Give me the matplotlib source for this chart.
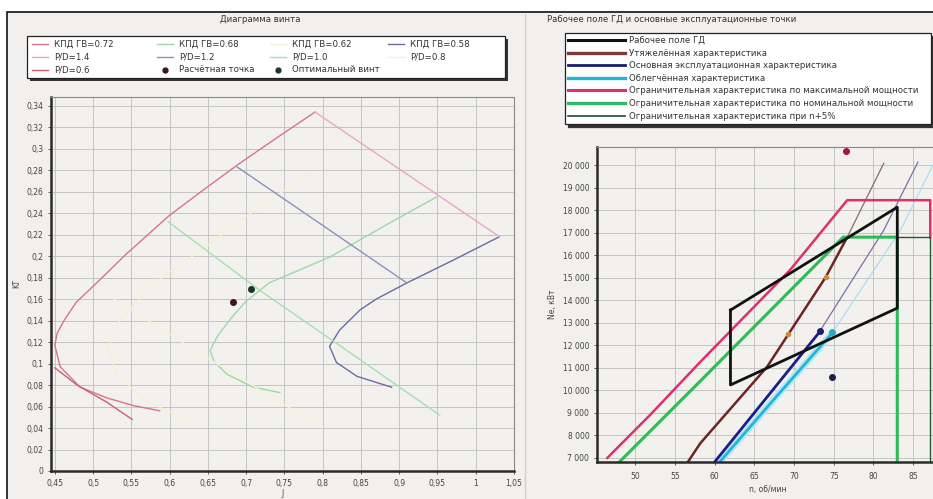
"""Propeller diagram and engine operating field

Two panels side by side: KT-J propeller chart on the left, engine power
field with the main operating characteristics on the right.
"""

import matplotlib
matplotlib.use("Agg")
import matplotlib.pyplot as plt
from matplotlib.patches import Rectangle
from matplotlib.lines import Line2D
from matplotlib.ticker import FuncFormatter, MultipleLocator

# -----------------------------------------------------------------------------
# Left chart data – KT vs J ----------------------------------------------------
# -----------------------------------------------------------------------------
kpd072_j = [0.790, 0.740, 0.689, 0.645, 0.600, 0.542, 0.509, 0.478, 0.462, 0.453, 0.450,
            0.457, 0.483, 0.518, 0.552, 0.587]
kpd072_kt = [0.334, 0.310, 0.285, 0.262, 0.238, 0.201, 0.178, 0.157, 0.140, 0.128, 0.117,
             0.097, 0.078, 0.068, 0.061, 0.056]

kpd068_j = [0.744, 0.709, 0.675, 0.658, 0.653, 0.662, 0.680, 0.700, 0.730, 0.809, 0.888, 0.949]
kpd068_kt = [0.073, 0.078, 0.090, 0.102, 0.112, 0.125, 0.142, 0.158, 0.175, 0.199, 0.231, 0.255]

kpd062_j = [0.630, 0.570, 0.530, 0.520, 0.535, 0.580, 0.640, 0.700, 0.785]
kpd062_kt = [0.045, 0.065, 0.090, 0.115, 0.140, 0.175, 0.205, 0.237, 0.278]

kpd058_j = [1.031, 0.970, 0.910, 0.870, 0.849, 0.822, 0.809, 0.818, 0.845, 0.890]
kpd058_kt = [0.218, 0.196, 0.175, 0.160, 0.150, 0.131, 0.116, 0.101, 0.088, 0.078]

pd14_j = [0.790, 1.031]
pd14_kt = [0.334, 0.218]
pd12_j = [0.688, 0.910]
pd12_kt = [0.283, 0.175]
pd10_j = [0.598, 0.718, 0.840, 0.953]
pd10_kt = [0.232, 0.168, 0.108, 0.052]
pd08_j = [0.505, 0.650, 0.800]
pd08_kt = [0.170, 0.105, 0.040]
pd06_j = [0.450, 0.479, 0.518, 0.551]
pd06_kt = [0.096, 0.080, 0.064, 0.048]

design_pt = (0.683, 0.157)
optimum_pt = (0.706, 0.169)

left_labels = ["КПД ГВ=0.72", "КПД ГВ=0.68", "КПД ГВ=0.62", "КПД ГВ=0.58",
               "P/D=1.4", "P/D=1.2", "P/D=1.0", "P/D=0.8",
               "P/D=0.6", "Расчётная точка", "Оптимальный винт"]

# -----------------------------------------------------------------------------
# Right chart data – Ne vs n ---------------------------------------------------
# -----------------------------------------------------------------------------
field_n = [62, 62, 83, 83, 62]
field_ne = [13560, 10240, 13650, 18130, 13560]

heavy_n = [56.6, 58.2, 66.6, 74.0, 76.7]
heavy_ne = [6800, 7650, 11040, 15030, 16800]
heavy_ext_n = [76.7, 81.3]
heavy_ext_ne = [16800, 20080]

main_n = [59.5, 66.6, 73.1]
main_ne = [6600, 9700, 12540]
main_ext_n = [73.1, 81.3, 85.6]
main_ext_ne = [12540, 17110, 20130]

light_n = [60.1, 67.4, 74.8]
light_ne = [6600, 9570, 12540]
light_ext_n = [74.8, 83.4, 87.6]
light_ext_ne = [12540, 17110, 20080]

maxpow_n = [46.5, 52.0, 58.2, 69.5, 76.7, 87.15, 87.15]
maxpow_ne = [7000, 8950, 11260, 15340, 18440, 18440, 16800]

nompow_n = [47.9, 58.2, 76.2, 83, 83]
nompow_ne = [6780, 10410, 16800, 16800, 6700]

n5_n = [83, 87.15, 87.15]
n5_ne = [16800, 16800, 6700]

heavy_pts_n = [69.3, 74.0]
heavy_pts_ne = [12500, 15030]
main_pt = (73.3, 12650)
light_pt = (74.8, 12600)
low_pt = (74.8, 10590)
top_pt = (76.6, 20610)

right_labels = ["Рабочее поле ГД", "Утяжелённая характеристика",
                "Основная эксплуатационная характеристика", "Облегчённая характеристика",
                "Ограничительная характеристика по максимальной мощности",
                "Ограничительная характеристика по номинальной мощности",
                "Ограничительная характеристика при n+5%"]

# -----------------------------------------------------------------------------
# Figure / panels --------------------------------------------------------------
# -----------------------------------------------------------------------------
W, H = 933, 499
fig = plt.figure(figsize=(W / 100, H / 100), dpi=100, facecolor="white")

def fx(px):
    return px / W

def fy(py):
    return 1 - py / H

panel_bg = "#f1f0ee"
ax_bg = "#f3f1ee"
fig.patches.append(Rectangle((fx(7), -0.02), 1.0, fy(12) + 0.02, transform=fig.transFigure,
                             facecolor=panel_bg, edgecolor="#222222", lw=1.3, zorder=-5))
fig.lines.append(Line2D([fx(525), fx(525)], [0, fy(14)], transform=fig.transFigure,
                        color="#cfcfcf", lw=1.0))

fs = 6.2       # titles / legends
fs_tick = 5.5
tick_col = "#444444"
txt_col = "#333333"

def style_axes(ax):
    ax.set_facecolor(ax_bg)
    for s in ("left", "bottom"):
        ax.spines[s].set_linewidth(1.8)
        ax.spines[s].set_color("#2a2a2a")
    for s in ("top", "right"):
        ax.spines[s].set_linewidth(0.8)
        ax.spines[s].set_color("#888888")
    ax.tick_params(labelsize=fs_tick, colors=tick_col, length=2, width=0.6)
    ax.grid(True, color="#bdbdbd", lw=0.6)
    ax.set_axisbelow(True)

comma = FuncFormatter(lambda v, p: f"{round(v, 2):g}".replace(".", ","))

# ─ Left: propeller diagram ----------------------------------------------------
axl = fig.add_axes([fx(51), fy(471), fx(514) - fx(51), fy(97) - fy(471)])
style_axes(axl)

h072, = axl.plot(kpd072_j, kpd072_kt, color="#d57588", lw=1.0)
h068, = axl.plot(kpd068_j, kpd068_kt, color="#9ad9a8", lw=1.0)
h062, = axl.plot(kpd062_j, kpd062_kt, color="#f2f2d2", lw=1.0)
h058, = axl.plot(kpd058_j, kpd058_kt, color="#6c6aa6", lw=1.0)
h14, = axl.plot(pd14_j, pd14_kt, color="#e9a6c8", lw=1.0)
h12, = axl.plot(pd12_j, pd12_kt, color="#8f8fbe", lw=1.0)
h10, = axl.plot(pd10_j, pd10_kt, color="#a3e0b0", lw=1.0)
h08, = axl.plot(pd08_j, pd08_kt, color="#f3f3d8", lw=1.0)
h06, = axl.plot(pd06_j, pd06_kt, color="#cf5f6e", lw=1.0)
hdes, = axl.plot([design_pt[0]], [design_pt[1]], "o", color="#3b1426", ms=4, ls="none")
hopt, = axl.plot([optimum_pt[0]], [optimum_pt[1]], "o", color="#163a26", ms=4, ls="none")

axl.set_xlim(0.445, 1.05)
axl.set_ylim(0, 0.348)
axl.xaxis.set_major_locator(MultipleLocator(0.05))
axl.yaxis.set_major_locator(MultipleLocator(0.02))
axl.xaxis.set_major_formatter(comma)
axl.yaxis.set_major_formatter(comma)
axl.set_xlabel("J", fontsize=fs_tick, color=tick_col, labelpad=1)
axl.set_ylabel("KT", fontsize=fs_tick, color=tick_col, labelpad=4)

fig.text(fx(260), fy(20), "Диаграмма винта", fontsize=fs, color=txt_col,
         ha="center", va="center")

# Legend box drawn by hand: fixed-width columns like the original grid legend
lx0, ly0, lx1, ly1 = 27, 36, 505, 78
fig.patches.append(Rectangle((fx(lx0 + 3), fy(ly1 + 3)), fx(lx1) - fx(lx0), fy(ly0) - fy(ly1),
                             transform=fig.transFigure, facecolor="#333333",
                             edgecolor="none", zorder=4))
fig.patches.append(Rectangle((fx(lx0), fy(ly1)), fx(lx1) - fx(lx0), fy(ly0) - fy(ly1),
                             transform=fig.transFigure, facecolor="white",
                             edgecolor="#222222", lw=0.9, zorder=5))
left_handles = [h072, h068, h062, h058, h14, h12, h10, h08, h06, hdes, hopt]
col_x = [32, 157, 270, 388]
row_y = [44, 57, 70]
for i, (h, lab) in enumerate(zip(left_handles, left_labels)):
    cx, ry = col_x[i % 4], row_y[i // 4]
    if h.get_linestyle() in ("None", "none", ""):
        fig.lines.append(Line2D([fx(cx + 8)], [fy(ry)], transform=fig.transFigure,
                                marker="o", ms=3.5, color=h.get_color(), zorder=6))
    else:
        fig.lines.append(Line2D([fx(cx), fx(cx + 16)], [fy(ry), fy(ry)],
                                transform=fig.transFigure, color=h.get_color(),
                                lw=1.0, zorder=6))
    fig.text(fx(cx + 22), fy(ry), lab, fontsize=fs, color=txt_col,
             ha="left", va="center", zorder=6)

# ─ Right: engine operating field ---------------------------------------------
axr = fig.add_axes([fx(597), fy(462), 1.006 - fx(597), fy(147) - fy(462)])
style_axes(axr)
axr.tick_params(axis="x", pad=5)

axr.plot(light_ext_n, light_ext_ne, color="#a9dff0", lw=0.9)
axr.plot(main_ext_n, main_ext_ne, color="#7a6fa8", lw=0.9)
axr.plot(heavy_ext_n, heavy_ext_ne, color="#8a6a6a", lw=0.9)
axr.plot(light_n, light_ne, color="#b8e6f4", lw=5.0, solid_capstyle="round")
axr.plot(light_n, light_ne, color="#22b5d5", lw=2.0)
axr.plot(main_n, main_ne, color="#1c1c8a", lw=2.0)
axr.plot(heavy_n, heavy_ne, color="#6e2424", lw=1.8)
axr.plot(maxpow_n, maxpow_ne, color="#e0306a", lw=1.8)
axr.plot(nompow_n, nompow_ne, color="#2dbb55", lw=2.2)
axr.plot(n5_n, n5_ne, color="#1f5a35", lw=1.0)
axr.plot(field_n, field_ne, color="#111111", lw=2.0)

axr.plot(heavy_pts_n, heavy_pts_ne, "o", color="#d08a3a", ms=3)
axr.plot([main_pt[0]], [main_pt[1]], "o", color="#1c1c70", ms=4)
axr.plot([light_pt[0]], [light_pt[1]], "o", color="#2aa8c8", ms=4)
axr.plot([low_pt[0]], [low_pt[1]], "o", color="#1e1e4e", ms=4)
axr.plot([top_pt[0]], [top_pt[1]], "o", color="#b01040", ms=4)

axr.set_xlim(45.2, 88.2)
axr.set_ylim(6820, 20800)
axr.xaxis.set_major_locator(MultipleLocator(5))
axr.yaxis.set_major_locator(MultipleLocator(1000))
axr.yaxis.set_major_formatter(FuncFormatter(lambda v, p: f"{int(round(v)):,}".replace(",", " ")))
axr.set_xlabel("n, об/мин", fontsize=fs_tick, color=tick_col, labelpad=3)
axr.set_ylabel("Ne, кВт", fontsize=fs_tick, color=tick_col, labelpad=4)

fig.text(fx(547), fy(19), "Рабочее поле ГД и основные эксплуатационные точки",
         fontsize=fs, color=txt_col, ha="left", va="center")

right_handles = [Line2D([], [], color="#111111", lw=2.2),
                 Line2D([], [], color="#7a3a3a", lw=2.4),
                 Line2D([], [], color="#1c1c6e", lw=2.0),
                 Line2D([], [], color="#22b5d5", lw=2.4),
                 Line2D([], [], color="#e0306a", lw=2.2),
                 Line2D([], [], color="#2dbb6a", lw=2.4),
                 Line2D([], [], color="#1f4a35", lw=1.2)]
legr = fig.legend(right_handles, right_labels, loc="upper left", ncol=1,
                  bbox_to_anchor=(fx(565), fy(130), fx(931) - fx(565), fy(33) - fy(130)),
                  mode="expand", fontsize=fs, frameon=True, fancybox=False,
                  shadow={"color": "#333333", "alpha": 1.0},
                  handlelength=6.6, handletextpad=0.5, labelspacing=0.42,
                  borderaxespad=0, borderpad=0.35)
legr.get_frame().set_edgecolor("#222222")
legr.get_frame().set_linewidth(0.9)
for t in legr.get_texts():
    t.set_color(txt_col)

fig.savefig("out.png", dpi=100, facecolor=fig.get_facecolor())
